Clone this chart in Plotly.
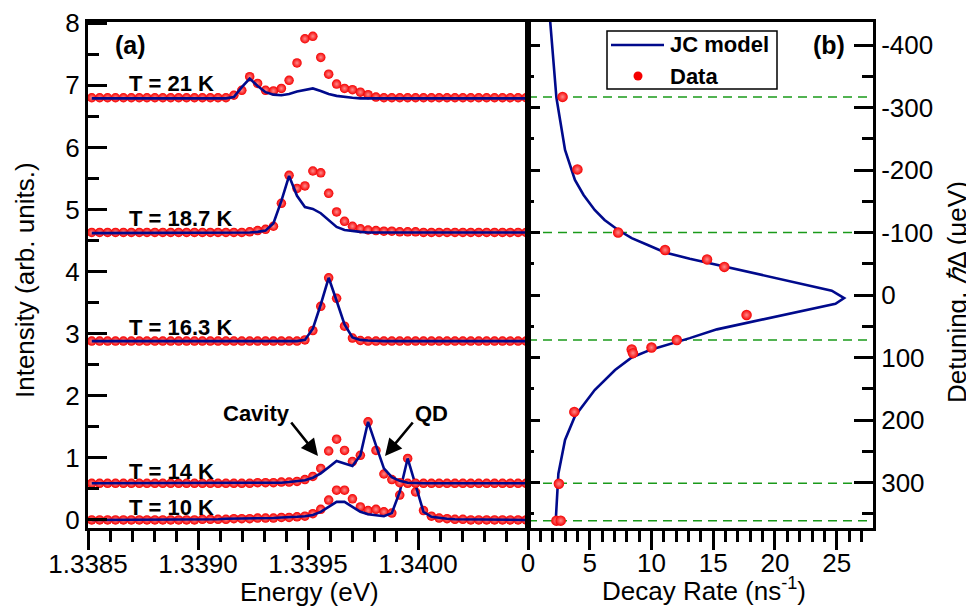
import plotly.graph_objects as go

# The page body adds an 8 px margin, so the figure is drawn 8 px smaller and
# every reference pixel position is shifted by that margin.
REF_W, REF_H = 974, 607
PAD = 8
W, H = REF_W - PAD, REF_H - PAD
FONT = "Liberation Sans, Arial, sans-serif"


def fx(px):
    return (px - PAD) / W


def fy(py):
    return 1 - (py - PAD) / H


# ---------------- Panel (a): PL spectra ----------------
energy = [
    1.338517, 1.338553, 1.338589, 1.338625, 1.338661, 1.338697, 1.338733, 1.338768, 1.338804, 1.338840,
    1.338876, 1.338912, 1.338948, 1.338984, 1.339020, 1.339056, 1.339091, 1.339127, 1.339163, 1.339199,
    1.339235, 1.339271, 1.339307, 1.339343, 1.339379, 1.339414, 1.339450, 1.339486, 1.339522, 1.339558,
    1.339594, 1.339630, 1.339666, 1.339702, 1.339738, 1.339773, 1.339809, 1.339845, 1.339881, 1.339917,
    1.339953, 1.339989, 1.340025, 1.340061, 1.340096, 1.340132, 1.340168, 1.340204, 1.340240, 1.340276,
    1.340312, 1.340348, 1.340384, 1.340419, 1.340455, 1.340491,
]

data_10K = [
    0.00, 0.00, 0.00, 0.00, 0.00, 0.00, 0.00, 0.00, 0.00, 0.00,
    0.00, 0.00, 0.00, 0.00, 0.01, 0.01, 0.01, 0.01, 0.02, 0.02,
    0.02, 0.03, 0.03, 0.03, 0.04, 0.04, 0.05, 0.06, 0.10, 0.17,
    0.32, 0.48, 0.48, 0.34, 0.21, 0.15, 0.17, 0.13, 0.11, 0.40,
    0.99, 0.45, 0.15, 0.06, 0.03, 0.02, 0.01, 0.01, 0.00, 0.00,
    0.00, 0.00, 0.00, 0.00, 0.00, 0.00,
]
model_10K = [
    0.00, 0.00, 0.00, 0.00, 0.00, 0.00, 0.00, 0.00, 0.00, 0.00,
    0.00, 0.00, 0.01, 0.01, 0.01, 0.01, 0.01, 0.02, 0.02, 0.02,
    0.02, 0.03, 0.03, 0.03, 0.04, 0.04, 0.05, 0.06, 0.08, 0.13,
    0.21, 0.29, 0.29, 0.21, 0.13, 0.09, 0.07, 0.06, 0.11, 0.45,
    0.99, 0.54, 0.13, 0.05, 0.03, 0.02, 0.01, 0.01, 0.01, 0.00,
    0.00, 0.00, 0.00, 0.00, 0.00, 0.00,
]
data_14K = [
    0.59, 0.59, 0.59, 0.59, 0.59, 0.59, 0.59, 0.59, 0.59, 0.59,
    0.59, 0.59, 0.59, 0.59, 0.59, 0.59, 0.59, 0.59, 0.59, 0.59,
    0.59, 0.60, 0.60, 0.60, 0.61, 0.61, 0.62, 0.65, 0.70, 0.83,
    1.11, 1.30, 1.12, 0.94, 1.04, 1.58, 1.12, 0.74, 0.65, 0.60,
    0.59, 0.59, 0.59, 0.59, 0.59, 0.59, 0.59, 0.59, 0.59, 0.59,
    0.59, 0.59, 0.59, 0.59, 0.59, 0.59,
]
model_14K = [
    0.59, 0.59, 0.59, 0.59, 0.59, 0.59, 0.59, 0.59, 0.59, 0.59,
    0.59, 0.59, 0.59, 0.59, 0.59, 0.59, 0.59, 0.59, 0.59, 0.59,
    0.59, 0.59, 0.59, 0.60, 0.60, 0.61, 0.62, 0.64, 0.68, 0.75,
    0.85, 0.95, 0.91, 0.87, 1.04, 1.58, 1.20, 0.83, 0.69, 0.63,
    0.60, 0.59, 0.59, 0.59, 0.59, 0.59, 0.59, 0.59, 0.59, 0.59,
    0.59, 0.59, 0.59, 0.59, 0.59, 0.59,
]
data_16K = [
    2.88, 2.88, 2.88, 2.88, 2.88, 2.88, 2.88, 2.88, 2.88, 2.88,
    2.88, 2.88, 2.88, 2.88, 2.88, 2.88, 2.88, 2.88, 2.88, 2.88,
    2.88, 2.88, 2.88, 2.88, 2.88, 2.88, 2.88, 2.90, 3.05, 3.44,
    3.90, 3.57, 3.12, 2.93, 2.89, 2.88, 2.88, 2.88, 2.88, 2.88,
    2.88, 2.88, 2.88, 2.88, 2.88, 2.88, 2.88, 2.88, 2.88, 2.88,
    2.88, 2.88, 2.88, 2.88, 2.88, 2.88,
]
model_16K = [
    2.88, 2.88, 2.88, 2.88, 2.88, 2.88, 2.88, 2.88, 2.88, 2.88,
    2.88, 2.88, 2.88, 2.88, 2.88, 2.88, 2.88, 2.88, 2.88, 2.88,
    2.88, 2.88, 2.88, 2.88, 2.88, 2.88, 2.88, 2.90, 3.08, 3.47,
    3.90, 3.53, 3.15, 2.94, 2.90, 2.89, 2.88, 2.88, 2.88, 2.88,
    2.88, 2.88, 2.88, 2.88, 2.88, 2.88, 2.88, 2.88, 2.88, 2.88,
    2.88, 2.88, 2.88, 2.88, 2.88, 2.88,
]
data_18K = [
    4.63, 4.63, 4.63, 4.63, 4.63, 4.63, 4.63, 4.63, 4.63, 4.63,
    4.63, 4.63, 4.63, 4.63, 4.63, 4.63, 4.63, 4.63, 4.63, 4.63,
    4.64, 4.66, 4.68, 4.73, 5.10, 5.55, 5.34, 5.38, 5.62, 5.59,
    5.26, 4.96, 4.81, 4.73, 4.69, 4.67, 4.66, 4.65, 4.65, 4.64,
    4.64, 4.64, 4.63, 4.63, 4.63, 4.63, 4.63, 4.63, 4.63, 4.63,
    4.63, 4.63, 4.63, 4.63, 4.63, 4.63,
]
model_18K = [
    4.62, 4.62, 4.62, 4.62, 4.62, 4.62, 4.62, 4.62, 4.62, 4.62,
    4.62, 4.62, 4.62, 4.62, 4.62, 4.62, 4.62, 4.62, 4.62, 4.63,
    4.63, 4.64, 4.66, 4.78, 5.14, 5.54, 5.22, 5.04, 5.01, 4.94,
    4.83, 4.72, 4.67, 4.65, 4.64, 4.63, 4.63, 4.63, 4.63, 4.63,
    4.63, 4.63, 4.63, 4.63, 4.63, 4.63, 4.63, 4.63, 4.63, 4.63,
    4.63, 4.63, 4.63, 4.63, 4.63, 4.63,
]
data_21K = [
    6.80, 6.80, 6.80, 6.80, 6.80, 6.80, 6.80, 6.80, 6.80, 6.80,
    6.80, 6.80, 6.80, 6.80, 6.80, 6.80, 6.80, 6.80, 6.84, 6.92,
    7.14, 7.03, 6.92, 6.91, 6.95, 7.08, 7.36, 7.75, 7.79, 7.45,
    7.18, 7.02, 6.95, 6.93, 6.89, 6.85, 6.81, 6.80, 6.80, 6.80,
    6.80, 6.80, 6.80, 6.80, 6.80, 6.80, 6.80, 6.80, 6.80, 6.80,
    6.80, 6.80, 6.80, 6.80, 6.80, 6.80,
]
model_21K = [
    6.79, 6.79, 6.79, 6.79, 6.79, 6.79, 6.79, 6.79, 6.79, 6.79,
    6.79, 6.79, 6.79, 6.79, 6.79, 6.79, 6.79, 6.79, 6.81, 6.97,
    7.11, 6.99, 6.89, 6.85, 6.84, 6.86, 6.90, 6.92, 6.95, 6.91,
    6.86, 6.83, 6.81, 6.80, 6.79, 6.79, 6.79, 6.79, 6.79, 6.79,
    6.79, 6.79, 6.79, 6.79, 6.79, 6.79, 6.79, 6.79, 6.79, 6.79,
    6.79, 6.79, 6.79, 6.79, 6.79, 6.79,
]

spectra_labels = ["T = 10 K", "T = 14 K", "T = 16.3 K", "T = 18.7 K", "T = 21 K"]
spectra_data = [data_10K, data_14K, data_16K, data_18K, data_21K]
spectra_model = [model_10K, model_14K, model_16K, model_18K, model_21K]

energy_ticks = [1.3385, 1.3390, 1.3395, 1.3400]
energy_ticktext = ["1.3385", "1.3390", "1.3395", "1.3400"]

# ---------------- Panel (b): decay rate vs detuning ----------------
jc_detuning = [-437, -400, -350, -316, -280, -232, -184, -160, -136, -120, -104, -91, -80, -68,
               -58, -7, 5, 14, 55, 69, 87, 100, 120, 152, 194, 232, 286, 330, 360]
jc_rate = [1.8, 1.95, 2.15, 2.3, 2.6, 3.0, 3.8, 4.5, 5.4, 6.2, 7.3, 8.4, 9.7, 11.1,
           13.1, 24.6, 25.6, 24.9, 15.3, 13.1, 10.0, 8.4, 7.05, 5.4, 3.8, 3.0, 2.46, 2.35, 2.25]

data_detuning = [-317, -201, -100, -72, -57, -45, 32, 72, 84, 87, 93, 187, 302, 361, 361]
data_rate = [2.8, 4.0, 7.3, 11.1, 14.5, 15.9, 17.7, 12.05, 10.0, 8.4, 8.5, 3.75, 2.5, 2.3, 2.65]

spectrum_detunings = [-317, -100, 72, 301, 361]

detuning_ticks = [-400, -300, -200, -100, 0, 100, 200, 300]
detuning_ticktext = ["-400", "-300", "-200", "-100", "0", "100", "200", "300"]

legend_names = ["JC model", "Data"]

# ---------------- Figure ----------------
RED = "#f50000"
NAVY = "#000a8c"
GREEN = "#1a9a1a"


def sphere(size):
    return dict(size=size, color=RED, line=dict(width=0),
                gradient=dict(type="radial", color="#ff8a8a"))


fig = go.Figure()

for d, m in zip(spectra_data, spectra_model):
    fig.add_trace(go.Scatter(x=energy, y=d, mode="markers", marker=sphere(9.5),
                             showlegend=False, xaxis="x", yaxis="y"))
    fig.add_trace(go.Scatter(x=energy, y=m, mode="lines", line=dict(color=NAVY, width=2.6),
                             showlegend=False, xaxis="x", yaxis="y"))

fig.add_trace(go.Scatter(x=jc_rate, y=jc_detuning, mode="lines", name=legend_names[0],
                         line=dict(color=NAVY, width=2.6), xaxis="x2", yaxis="y2",
                         showlegend=False))
fig.add_trace(go.Scatter(x=data_rate, y=data_detuning, mode="markers", name=legend_names[1],
                         marker=sphere(10.5), xaxis="x2", yaxis="y2", showlegend=False))
# carrier for the inner tick row on the left side of panel (b)
fig.add_trace(go.Scatter(x=[None], y=[None], mode="markers", showlegend=False,
                         xaxis="x2", yaxis="y3", hoverinfo="skip"))

shapes = []
for v in spectrum_detunings:
    shapes.append(dict(type="line", xref="x2 domain", x0=0, x1=1, yref="y2", y0=v, y1=v,
                       line=dict(color=GREEN, width=1.5, dash="9px,6px"), layer="below"))

# hand-drawn legend box (paper coordinates)
shapes.append(dict(type="rect", xref="paper", yref="paper", x0=fx(607), x1=fx(777),
                   y0=fy(89), y1=fy(31), line=dict(color="black", width=1.5),
                   fillcolor="white", layer="above"))
shapes.append(dict(type="line", xref="paper", yref="paper", x0=fx(611), x1=fx(664),
                   y0=fy(45), y1=fy(45), line=dict(color=NAVY, width=2.6), layer="above"))
shapes.append(dict(type="circle", xref="paper", yref="paper", x0=fx(633.5), x1=fx(642.5),
                   y0=fy(80.5), y1=fy(71.5), line=dict(width=0), fillcolor=RED,
                   layer="above"))

ydom = [fy(528), fy(22)]
tickfont = dict(family=FONT, size=26, color="black")
axis_common = dict(showline=True, linewidth=3, linecolor="black", showgrid=False,
                   zeroline=False, tickcolor="black", tickwidth=2.5, tickfont=tickfont,
                   automargin=False)

annotations = []


def px_ann(text, x, y, size=22, bold=True, xanchor="center", angle=0):
    annotations.append(dict(text=f"<b>{text}</b>" if bold else text, x=fx(x), y=fy(y),
                            xref="paper", yref="paper", showarrow=False, xanchor=xanchor,
                            yanchor="middle", textangle=angle,
                            font=dict(family=FONT, size=size, color="black")))


label_y = [507, 471, 327, 219, 84]
for lab, yy in zip(spectra_labels, label_y):
    px_ann(lab, 127, yy, size=22, xanchor="left")

px_ann(legend_names[0], 668, 45, size=22, xanchor="left")
px_ann(legend_names[1], 668, 76, size=22, xanchor="left")

px_ann("(a)", 131, 45, size=25)
px_ann("(b)", 829, 45, size=25)
px_ann("Cavity", 256, 413, size=22)
px_ann("QD", 431, 413, size=22)

for (tx, ty, hx, hy) in [(290, 421, 318, 456), (414, 421, 385, 456)]:
    annotations.append(dict(x=fx(hx), y=fy(hy), xref="paper", yref="paper",
                            ax=tx - hx, ay=ty - hy, axref="pixel", ayref="pixel",
                            text="", showarrow=True, arrowhead=2, arrowsize=1.3,
                            arrowwidth=2.6, arrowcolor="black"))

px_ann("Intensity (arb. units.)", 25, 280, size=26, bold=False, angle=-90)
px_ann("Energy (eV)", 309, 592, size=26, bold=False)
px_ann("Decay Rate (ns<sup>-1</sup>)", 704, 589, size=26, bold=False)
px_ann("Detuning, <i>ℏ</i>Δ (μeV)", 957, 292, size=26, bold=False, angle=-90)

fig.update_layout(
    width=W, height=H,
    margin=dict(l=0, r=0, t=0, b=0, autoexpand=False),
    paper_bgcolor="white", plot_bgcolor="white",
    font=dict(family=FONT, color="black"),
    showlegend=False,
    xaxis=dict(domain=[fx(88), fx(528)], range=[1.3385, 1.3405], anchor="y",
               tickmode="array", tickvals=energy_ticks, ticktext=energy_ticktext,
               ticks="outside", ticklen=19, mirror=True, ticklabelstandoff=-8,
               minor=dict(tickmode="linear", tick0=1.3385, dtick=0.0001, ticks="outside",
                          ticklen=11, tickwidth=2.5, tickcolor="black"),
               **axis_common),
    yaxis=dict(domain=ydom, range=[-0.13, 8.02], anchor="x", dtick=1, tick0=0,
               ticks="inside", ticklen=19, mirror=True, ticklabelstandoff=0,
               minor=dict(dtick=0.5, tick0=0, ticks="inside", ticklen=11, tickwidth=2.5,
                          tickcolor="black"),
               **axis_common),
    xaxis2=dict(domain=[fx(528), fx(873)], range=[0, 27.94], anchor="y2",
                dtick=5, tick0=0, ticks="outside", ticklen=19, mirror=True,
                ticklabelstandoff=-9,
                minor=dict(dtick=1, tick0=0, ticks="outside", ticklen=11, tickwidth=2.5,
                           tickcolor="black"),
                **axis_common),
    yaxis2=dict(domain=ydom, range=[372.8, -436.8], anchor="x2", side="right",
                tickmode="array", tickvals=detuning_ticks, ticktext=detuning_ticktext,
                ticks="inside", ticklen=19, mirror=True, ticklabelstandoff=0,
                minor=dict(tickmode="linear", tick0=0, dtick=50, ticks="inside", ticklen=11,
                           tickwidth=2.5, tickcolor="black"),
                **axis_common),
    yaxis3=dict(range=[372.8, -436.8], anchor="x2", overlaying="y2", side="left",
                showline=False, showgrid=False, zeroline=False, showticklabels=False,
                automargin=False,
                tickmode="linear", tick0=0, dtick=100, ticks="inside", ticklen=12,
                tickwidth=2.5, tickcolor="black",
                minor=dict(dtick=50, tick0=0, ticks="inside", ticklen=6, tickwidth=2.5,
                           tickcolor="black")),
    shapes=shapes,
    annotations=annotations,
)

fig.write_html("out.html")
